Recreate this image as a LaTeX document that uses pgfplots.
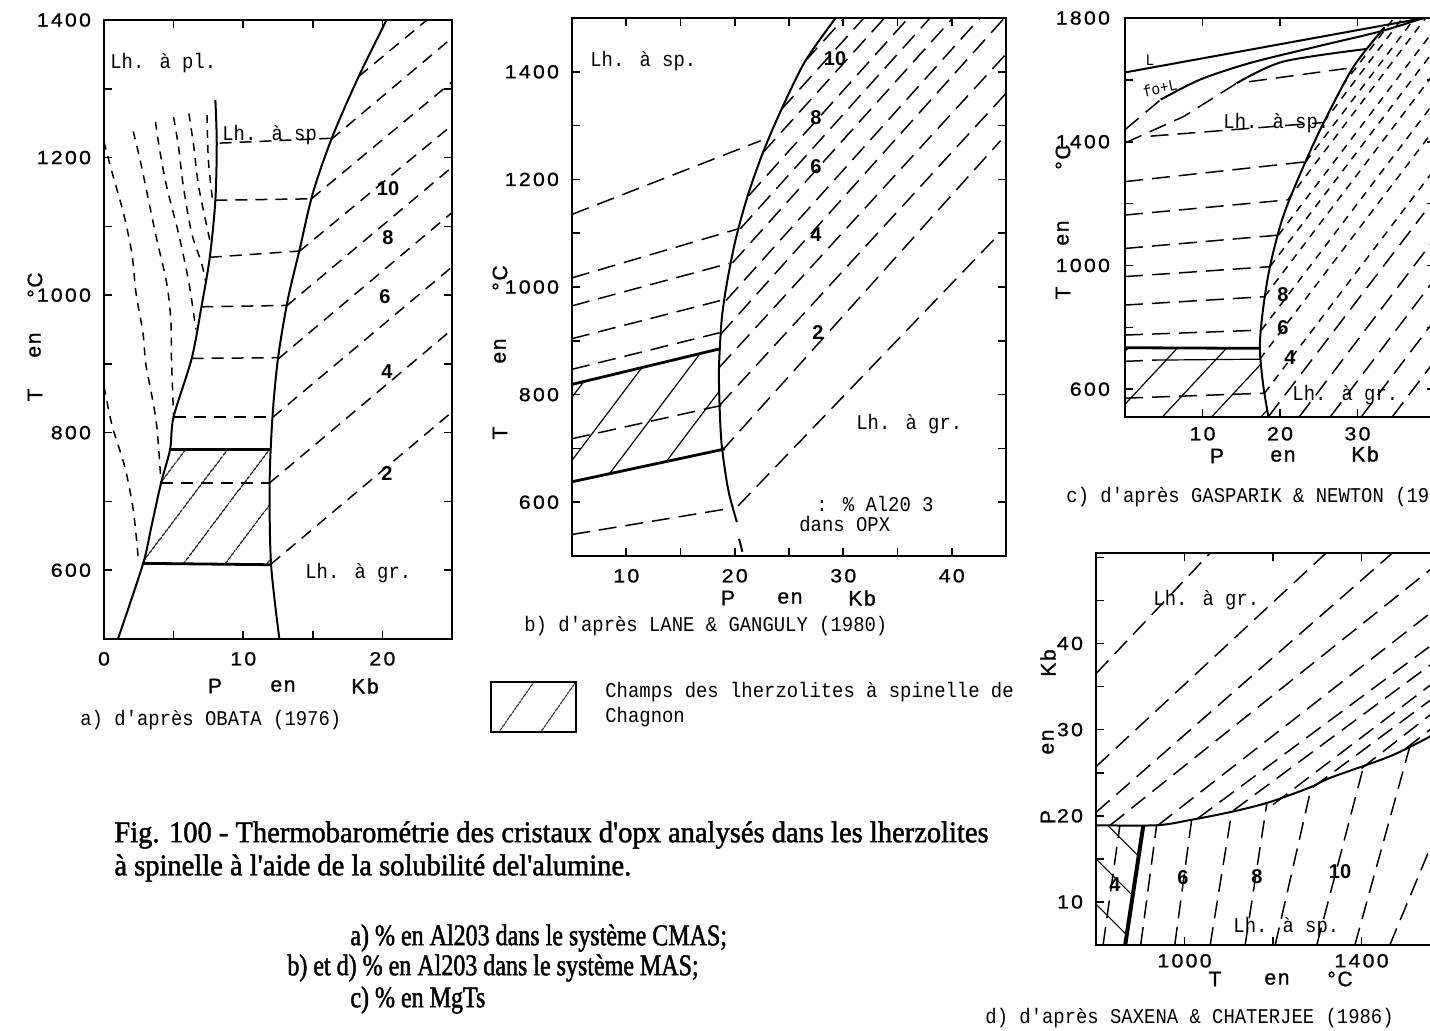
\documentclass[border=0pt]{standalone}
\usepackage{fontspec}
\usepackage{pgfplots}
\pgfplotsset{compat=1.18}
\usetikzlibrary{patterns.meta}
\setmainfont{Liberation Sans}
\newfontfamily\sansf[LetterSpace=12,FakeStretch=1.12,FakeBold=1]{Liberation Sans}
\newfontfamily\sanslab[LetterSpace=8,FakeBold=1]{Liberation Sans}
\newfontfamily\monof[FakeStretch=0.9]{Liberation Mono}
\newfontfamily\serff[FakeStretch=0.95,FakeBold=1.5]{Liberation Serif}
\newfontfamily\serfn[FakeStretch=0.8,FakeBold=1.5]{Liberation Serif}
\newcommand\tickf{\fontsize{9.5}{11}\selectfont\sansf}
\newcommand\labf{\fontsize{10.5}{12}\selectfont\sanslab}
\newcommand\annf{\fontsize{10.5}{12}\selectfont\monof}
\newcommand\smf{\fontsize{8}{9}\selectfont\monof}
\newcommand\numf{\fontsize{10}{12}\selectfont\normalfont\bfseries}
\newcommand\capf{\fontsize{15}{17}\selectfont\serff}
\newcommand\capn{\fontsize{15}{17}\selectfont\serfn}

\pgfplotsset{
  panel/.style={scale only axis, anchor=north west, no markers,
    axis line style={line width=1pt},
    every tick/.style={black, line width=0.8pt},
    major tick length=4pt, tick align=inside,
    ticklabel style={font=\tickf},
    xticklabel style={yshift=-3pt},
    yticklabel style={xshift=-3pt},
  },
  bd/.style={black, line width=1pt, mark=none},
  thk/.style={black, line width=1.4pt, mark=none},
  ds/.style={black, line width=0.75pt, mark=none, dash pattern=on 9pt off 4.5pt},
  dsa/.style={black, line width=0.75pt, mark=none, dash pattern=on 6pt off 4pt},
  dss/.style={black, line width=0.75pt, mark=none, dash pattern=on 4pt off 3.5pt},
}

\begin{document}
\begin{tikzpicture}
\useasboundingbox (0,0) rectangle (715pt,-515pt);
\fill[white] (0,0) rectangle (715pt,-515pt);
\clip (0,0) rectangle (715pt,-515pt);

%================ Panel a ================
\begin{axis}[panel, at={(52pt,-10pt)}, width=174pt, height=309.5pt,
  xmin=0, xmax=25, ymin=500, ymax=1400,
  xtick={0,5,...,25}, xticklabels={0,,10,,20,},
  ytick={500,600,...,1400}, yticklabels={,600,,800,,1000,,1200,,1400}]
\addplot[draw=none, pattern={Lines[angle=53,distance=17pt,line width=0.6pt]}, pattern color=black]
  coordinates {(4.75,776)(11.9,776)(11.9,727)(12.0,609)(2.8,609)(3.4,663)(4.1,727)};
% boundaries
\addplot[bd, smooth] coordinates {(20.3,1400)(18.3,1318)(16.4,1230)(15.0,1148)(14.05,1066)(13.2,993)(12.5,908)(12.1,822)(11.9,727)(12.0,609)(12.6,500)};
\addplot[bd, smooth] coordinates {(8.0,1284)(8.1,1221)(8.0,1138)(7.6,1055)(7.0,983)(6.3,908)(5.0,823)(4.75,776)(4.1,727)(3.4,663)(2.8,609)(1.0,500)};
\addplot[thk] coordinates {(4.75,776)(11.9,776)};
\addplot[thk] coordinates {(2.8,610)(12.0,608)};
% spinel isopleths
\addplot[dsa] coordinates {(8.3,1221)(16.3,1228)};
\addplot[dsa] coordinates {(8.0,1138)(14.9,1140)};
\addplot[dsa] coordinates {(7.6,1055)(14.0,1064)};
\addplot[dsa] coordinates {(7.0,983)(13.1,985)};
\addplot[dsa] coordinates {(6.3,908)(12.5,909)};
\addplot[dsa] coordinates {(5.0,823)(12.1,823)};
\addplot[dsa] coordinates {(4.1,727)(11.9,727)};
% garnet isopleths
\addplot[dsa] coordinates {(12.0,609)(25,830)};
\addplot[dsa] coordinates {(11.9,727)(25,950)};
\addplot[dsa] coordinates {(12.1,822)(25,1041)};
\addplot[dsa] coordinates {(12.5,907)(25,1120)};
\addplot[dsa] coordinates {(13.1,984)(25,1186)};
\addplot[dsa] coordinates {(14.0,1063)(25,1247)};
\addplot[dsa] coordinates {(14.9,1140)(25,1310)};
\addplot[dsa] coordinates {(16.3,1226)(25,1374)};
\addplot[dsa] coordinates {(18.3,1318)(23.2,1400)};
% plagioclase field isopleths
\addplot[dss, smooth] coordinates {(0.0,1223)(0.6,1177)(1.4,1119)(2.0,1061)(2.3,1003)(2.8,945)(3.0,900)(3.4,858)(3.8,808)(4.1,727)};
\addplot[dss, smooth] coordinates {(2.1,1238)(2.6,1196)(3.2,1138)(3.8,1080)(4.5,1018)(4.8,964)(4.85,906)(5.0,823)};
\addplot[dss, smooth] coordinates {(3.7,1252)(4.0,1211)(4.5,1158)(5.35,1090)(6.1,1018)(6.6,950)};
\addplot[dss, smooth] coordinates {(5.0,1259)(5.35,1216)(5.7,1158)(6.3,1090)(7.0,1047)(7.3,1020)};
\addplot[dss, smooth] coordinates {(6.1,1264)(6.45,1216)(6.8,1158)(7.6,1080)};
\addplot[dss, smooth] coordinates {(7.4,1262)(7.5,1196)(7.8,1138)};
\addplot[dss, smooth] coordinates {(0,867)(0.6,809)(1.5,750)(2.1,688)(2.45,620)};
\end{axis}

%================ Panel b ================
\begin{axis}[panel, at={(286pt,-9pt)}, width=217pt, height=269pt,
  xmin=5, xmax=45, ymin=500, ymax=1500,
  xtick={5,10,...,45}, xticklabels={,10,,20,,30,,40,},
  ytick={500,600,...,1500}, yticklabels={,600,,800,,1000,,1200,,1400,}]
\addplot[draw=none, pattern={Lines[angle=53,distance=19pt,line width=0.6pt]}, pattern color=black]
  coordinates {(5,819)(18.6,885)(18.55,851)(18.8,706)(19.1,699)(5,638)};
\addplot[bd, smooth] coordinates {(29.3,1500)(26.5,1420)(24.3,1330)(22.6,1250)(21.2,1170)(20.1,1090)(19.3,1010)(18.8,940)(18.55,851)(18.6,780)(18.8,706)(19.4,623)(20.2,563)};
\addplot[bd] coordinates {(20.4,532)(20.7,508)};
\addplot[thk] coordinates {(5,819)(18.6,885)};
\addplot[thk] coordinates {(5,638)(19.1,699)};
% spinel isopleths
\addplot[ds] coordinates {(5,1135)(22.4,1272)};
\addplot[ds] coordinates {(5,1017)(20.3,1108)};
\addplot[ds] coordinates {(5,965)(19.5,1044)};
\addplot[ds] coordinates {(5,904)(18.9,976)};
\addplot[ds] coordinates {(5,847)(18.6,915)};
\addplot[ds] coordinates {(5,718)(18.8,780)};
\addplot[ds] coordinates {(5,540)(19.7,589)};
% garnet isopleths
\addplot[ds] coordinates {(20.3,593)(44.5,1101)};
\addplot[ds] coordinates {(18.8,695)(44.5,1272)};
\addplot[ds] coordinates {(18.6,780)(45,1360)};
\addplot[ds] coordinates {(18.55,850)(45,1433)};
\addplot[ds] coordinates {(18.7,912)(44.85,1500)};
\addplot[ds] coordinates {(19.2,975)(42.6,1500)};
\addplot[ds] coordinates {(19.8,1045)(40.1,1500)};
\addplot[ds] coordinates {(20.5,1108)(38.0,1500)};
\addplot[ds] coordinates {(21.3,1170)(36.0,1500)};
\addplot[ds] coordinates {(22.6,1250)(33.8,1500)};
\addplot[ds] coordinates {(24.3,1330)(31.9,1500)};
\addplot[ds] coordinates {(26.5,1420)(30.1,1500)};
\end{axis}

%================ Panel c ================
\begin{axis}[panel, at={(562.5pt,-9pt)}, width=155pt, height=199.5pt,
  xmin=0, xmax=40, ymin=510, ymax=1800,
  xtick={0,10,20,30,40}, xticklabels={,10,20,30,},
  ytick={600,800,...,1800}, yticklabels={600,,1000,,1400,,1800},
  yticklabel style={xshift=-1pt}, xticklabel style={yshift=1.5pt}]
\addplot[draw=none, pattern={Lines[angle=47,distance=18pt,line width=0.6pt]}, pattern color=black]
  coordinates {(0,732)(17.4,732)(17.8,619)(18.4,510)(0,510)};
\addplot[bd] coordinates {(0,1624)(38.6,1800)};
\addplot[ds] coordinates {(0,1439)(4.6,1536)};
\addplot[bd, smooth] coordinates {(4.6,1536)(9.7,1601)(16.2,1655)(24.8,1708)(33,1757)(38.5,1800)};
\addplot[ds] coordinates {(0,1396)(7.6,1482)(14.4,1589)};
\addplot[bd, smooth] coordinates {(14.4,1589)(20.4,1659)(31.2,1700)};
\addplot[ds] coordinates {(16,1594)(28.6,1637)};
\addplot[bd, smooth] coordinates {(33.5,1770)(29.5,1643)(25.6,1460)(23.0,1319)(20.4,1158)(18.7,996)(17.8,856)(17.4,737)(17.8,619)(18.5,511)};
\addplot[thk] coordinates {(0,734)(17.4,732)};
% spinel isopleths
\addplot[ds] coordinates {(0,571)(18.0,587)};
\addplot[ds] coordinates {(0,690)(4,694)};
\addplot[black, line width=0.6pt] coordinates {(4,694)(17.4,697)};
\addplot[ds] coordinates {(0,775)(17.6,791)};
\addplot[ds] coordinates {(0,872)(18.0,899)};
\addplot[ds] coordinates {(0,964)(18.7,996)};
\addplot[ds] coordinates {(0,1055)(19.8,1098)};
\addplot[ds] coordinates {(0,1163)(21.0,1212)};
\addplot[ds] coordinates {(0,1271)(23.3,1335)};
\addplot[ds] coordinates {(3.3,1418)(25.6,1462)};
% garnet isopleths
\addplot[dss] coordinates {(18.0,587)(40,1313)};
\addplot[dss] coordinates {(17.4,697)(40,1443)};
\addplot[dss] coordinates {(17.6,791)(40,1530)};
\addplot[dss] coordinates {(18.0,899)(40,1625)};
\addplot[dss] coordinates {(18.7,996)(40,1699)};
\addplot[dss] coordinates {(19.8,1098)(40,1765)};
\addplot[dss] coordinates {(21.0,1212)(38.8,1800)};
\addplot[dss] coordinates {(23.3,1335)(37.4,1800)};
\addplot[dss] coordinates {(25.6,1462)(35.8,1800)};
\addplot[dss] coordinates {(28.0,1580)(34.7,1800)};
\addplot[ds] coordinates {(18.5,511)(38.6,1170)};
\addplot[ds] coordinates {(22.5,511)(40,1088)};
\addplot[ds] coordinates {(26.5,511)(40,957)};
\addplot[ds] coordinates {(30.5,511)(40,825)};
\addplot[ds] coordinates {(34.5,511)(40,693)};
\end{axis}

%================ Panel d ================
\begin{axis}[panel, at={(548pt,-276.5pt)}, width=177pt, height=196pt,
  xmin=800, xmax=1600, ymin=5, ymax=50.5,
  xtick={800,1000,...,1600}, xticklabels={,1000,,1400,},
  ytick={5,10,...,50}, yticklabels={,10,,20,,30,,40,,},
  yticklabel style={xshift=0pt}, xticklabel style={yshift=2pt}]
\addplot[draw=none, pattern={Lines[angle=-45,distance=16pt,line width=0.6pt]}, pattern color=black]
  coordinates {(800,18.9)(907,18.9)(866,5)(800,5)};
\addplot[bd, smooth] coordinates {(800,18.9)(937,18.9)(1012,19.5)(1110,20.5)(1193,21.6)(1284,23.3)(1329,24.4)(1464,26.9)(1555,29.2)(1600,30.5)};
\addplot[black, line width=2pt] coordinates {(907,18.9)(866,5)};
% spinel isopleths
\addplot[ds] coordinates {(816,5)(854,18.9)};
\addplot[ds] coordinates {(901,5)(937,18.9)};
\addplot[ds] coordinates {(978,5)(1016,19.5)};
\addplot[ds] coordinates {(1058,5)(1107,20.5)};
\addplot[ds] coordinates {(1137,5)(1186,21.4)};
\addplot[ds] coordinates {(1205,5)(1287,23.4)};
\addplot[ds] coordinates {(1299,5)(1404,25.6)};
\addplot[ds] coordinates {(1385,5)(1509,28.0)};
\addplot[ds] coordinates {(1464,5)(1600,21.8)};
% garnet isopleths
\addplot[ds] coordinates {(800,36.5)(1058,50.5)};
\addplot[ds] coordinates {(800,25.7)(1320,50.5)};
\addplot[ds] coordinates {(800,20.4)(1470,50.5)};
\addplot[ds] coordinates {(832,18.9)(1600,50.4)};
\addplot[ds] coordinates {(940,18.9)(1600,45.3)};
\addplot[ds] coordinates {(1030,19.7)(1600,41.4)};
\addplot[ds] coordinates {(1110,20.6)(1600,39.2)};
\addplot[ds] coordinates {(1200,21.3)(1600,36.9)};
\addplot[ds] coordinates {(1290,23.3)(1600,35.1)};
\addplot[ds] coordinates {(1400,25.5)(1600,33.5)};
\addplot[ds] coordinates {(1500,27.8)(1600,31.8)};
\end{axis}

%================ Texts (pixel coordinates) ================
\begin{scope}[x=0.5pt, y=-0.5pt, every node/.style={inner sep=0pt}]
% panel a
\node[anchor=west, fill=white, inner sep=1pt] at (108,63) {\annf Lh. à pl.};
\node[anchor=west] at (222,135) {\annf Lh. à sp};
\node at (388,189) {\numf 10};
\node at (388,238) {\numf 8};
\node at (385,297) {\numf 6};
\node at (387,372) {\numf 4};
\node at (387,474) {\numf 2};
\node[anchor=west] at (305,573) {\annf Lh. à gr.};
\node[rotate=90] at (35,395) {\labf T};
\node[rotate=90] at (35,345) {\labf en};
\node[rotate=90] at (35,285) {\labf °C};
\node at (215,686) {\labf P};
\node at (283,686) {\labf en};
\node at (365,686) {\labf Kb};
\node[anchor=west] at (80,720) {\annf a) d'après OBATA (1976)};
% panel b
\node[anchor=west] at (590,61) {\annf Lh. à sp.};
\node at (835,59) {\numf 10};
\node at (816,118) {\numf 8};
\node at (816,167) {\numf 6};
\node at (816,235) {\numf 4};
\node at (818,333) {\numf 2};
\node[anchor=west] at (856,424) {\annf Lh. à gr.};
\node[anchor=west] at (816,504) {\annf : \% Al20 3};
\node[anchor=west] at (799,524) {\annf dans OPX};
\node[rotate=90] at (500,433) {\labf T};
\node[rotate=90] at (500,351) {\labf en};
\node[rotate=90] at (500,278) {\labf °C};
\node at (728,598) {\labf P};
\node at (790,598) {\labf en};
\node at (862,598) {\labf Kb};
\node[anchor=west] at (524,626) {\annf b) d'après LANE \& GANGULY (1980)};
% panel c
\node at (1150,60) {\smf L};
\node[rotate=12] at (1160,88) {\smf fo+L};
\node[anchor=west] at (1223,123) {\annf Lh. à sp.};
\node at (1283,295) {\numf 8};
\node at (1283,328) {\numf 6};
\node at (1290,358) {\numf 4};
\node[anchor=west] at (1292,395) {\annf Lh. à gr.};
\node[rotate=90] at (1063,293) {\labf T};
\node[rotate=90] at (1063,233) {\labf en};
\node[rotate=90] at (1063,157) {\labf °C};
\node at (1217,456) {\labf P};
\node at (1283,456) {\labf en};
\node at (1365,454) {\labf Kb};
\node[anchor=west] at (1066,497) {\annf c) d'après GASPARIK \& NEWTON (1984)};
% panel d
\node[anchor=west] at (1153,600) {\annf Lh. à gr.};
\node[anchor=west] at (1233,927) {\annf Lh. à sp.};
\node at (1115,885) {\numf 4};
\node at (1183,878) {\numf 6};
\node at (1257,877) {\numf 8};
\node at (1340,872) {\numf 10};
\node[rotate=90] at (1048,817) {\labf P};
\node[rotate=90] at (1048,742) {\labf en};
\node[rotate=90] at (1048,663) {\labf Kb};
\node at (1215,979) {\labf T};
\node at (1277,979) {\labf en};
\node at (1340,979) {\labf °C};
\node[anchor=west] at (985,1018) {\annf d) d'après SAXENA \& CHATERJEE (1986)};
% legend
\draw[line width=0.9pt, pattern={Lines[angle=55,distance=17pt,line width=0.6pt]}, pattern color=black] (491,682) rectangle (576,732);
\node[anchor=west] at (605,692) {\annf Champs des lherzolites à spinelle de};
\node[anchor=west] at (605,717) {\annf Chagnon};
% figure caption
\node[anchor=west] at (114,835) {\capf Fig. 100 - Thermobarométrie des cristaux d'opx analysés dans les lherzolites};
\node[anchor=west] at (114,868) {\capf à spinelle à l'aide de la solubilité del'alumine.};
\node[anchor=west] at (350,938) {\capn a) \% en Al203 dans le système CMAS;};
\node[anchor=west] at (287,968) {\capn b) et d) \% en Al203 dans le système MAS;};
\node[anchor=west] at (350,1000) {\capn c) \% en MgTs};
\end{scope}
\end{tikzpicture}
\end{document}
